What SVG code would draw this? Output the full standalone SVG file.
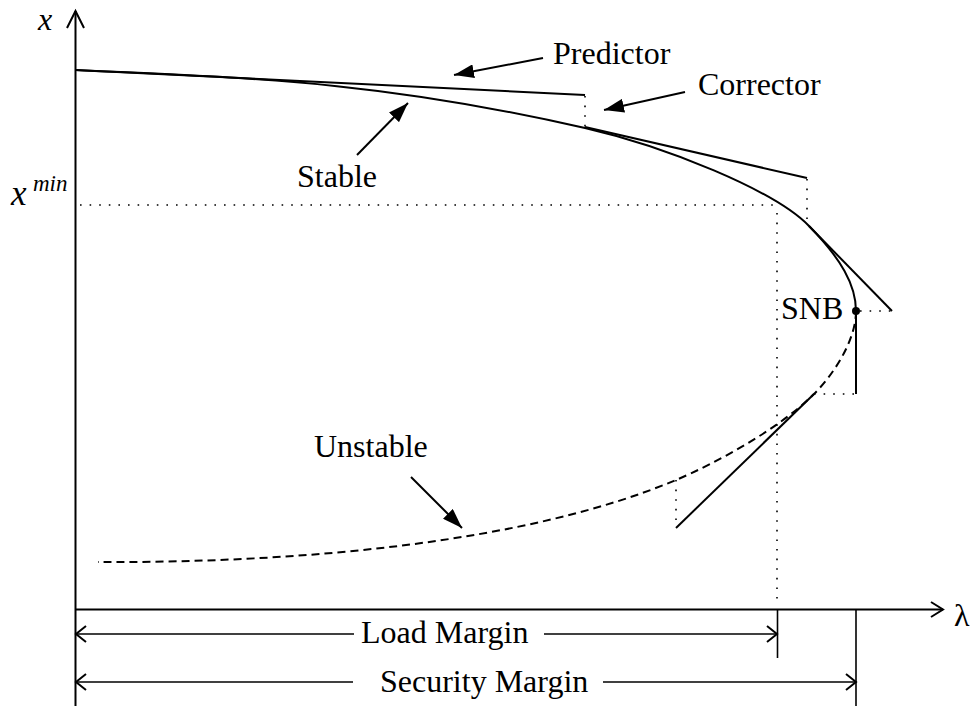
<svg xmlns="http://www.w3.org/2000/svg" width="977" height="706" viewBox="0 0 977 706">
  <style>
    .ln { fill: none; stroke: #000; stroke-width: 2; }
    .dot { fill: none; stroke: #000; stroke-width: 1.6; stroke-dasharray: 1.6 8; }
    .dash { fill: none; stroke: #000; stroke-width: 2; stroke-dasharray: 8 5; }
    .open { fill: none; stroke: #000; stroke-width: 2; stroke-linejoin: miter; }
    .thin { fill: none; stroke: #000; stroke-width: 1.6; }
    .lbl { font-family: "Liberation Serif", "Times New Roman", serif; font-size: 32px; fill: #000; }
    .it { font-style: italic; }
    .var { font-size: 35px; }
    .sup { font-size: 23px; }
  </style>
  <defs>
    <marker id="head" viewBox="0 0 20 14" refX="20" refY="7" markerWidth="20" markerHeight="14" markerUnits="userSpaceOnUse" orient="auto">
      <path d="M0,0 L20,7 L0,14 Z" fill="#000"/>
    </marker>
  </defs>
  <rect width="977" height="706" fill="#fff"/>

  <!-- axes -->
  <g id="axes">
    <line class="ln" x1="75.5" y1="706" x2="75.5" y2="11"/>
    <polyline class="open" points="67,28 75.5,11 84,28"/>
    <line class="ln" x1="75" y1="609.5" x2="943" y2="609.5"/>
    <polyline class="open" points="931,602 943,609.5 931,617"/>
    <text class="lbl it" x="38" y="30">x</text>
    <text class="lbl it var" x="11" y="205">x</text>
    <text class="lbl it sup" x="33" y="191">min</text>
    <text class="lbl" x="954" y="626">λ</text>
  </g>

  <!-- stable branch of the nose curve -->
  <g id="stable-curve">
    <path class="ln" d="M75.5,70 C245,78 375,80 585,128 C665,146.4 774,190 809,226 C841,258.6 856,285 856,311"/>
  </g>

  <!-- unstable branch -->
  <g id="unstable-curve">
    <path class="dash" d="M856,311 C856,340 834,374 814,394 C779,429 716,463 676,480 C526,543 300,563 98,562"/>
  </g>

  <g id="snb">
    <circle cx="856" cy="311" r="4" fill="#000"/>
    <text class="lbl" x="781" y="319">SNB</text>
  </g>

  <!-- predictor / corrector steps -->
  <g id="steps">
    <line class="ln" x1="75.5" y1="70" x2="585" y2="95"/>
    <line class="dot" x1="585" y1="96" x2="585" y2="127"/>
    <line class="ln" x1="585" y1="127" x2="807" y2="178"/>
    <line class="dot" x1="807" y1="179" x2="807" y2="225"/>
    <line class="ln" x1="809" y1="226" x2="892" y2="311"/>
    <line class="dot" x1="860" y1="311" x2="892" y2="311"/>
    <line class="ln" x1="856" y1="311" x2="856" y2="394"/>
    <line class="dot" x1="814" y1="394" x2="854" y2="394"/>
    <line class="ln" x1="814" y1="394" x2="676" y2="528"/>
    <line class="dot" x1="676" y1="480" x2="676" y2="527"/>
  </g>

  <!-- guide lines at x-min -->
  <g id="xmin-guides">
    <line class="dot" x1="80" y1="205" x2="777" y2="205"/>
    <line class="dot" x1="777" y1="213" x2="777" y2="605"/>
  </g>

  <!-- labels with pointers -->
  <g id="connectors">
    <line class="ln" x1="543" y1="58" x2="454" y2="75" marker-end="url(#head)"/>
    <line class="ln" x1="685" y1="92" x2="604" y2="110" marker-end="url(#head)"/>
    <line class="ln" x1="357" y1="155" x2="408" y2="103" marker-end="url(#head)"/>
    <line class="ln" x1="411" y1="477" x2="462" y2="528" marker-end="url(#head)"/>
  </g>
  <g id="label-predictor"><text class="lbl" x="553" y="64">Predictor</text></g>
  <g id="label-corrector"><text class="lbl" x="698" y="95">Corrector</text></g>
  <g id="label-stable"><text class="lbl" x="297" y="187">Stable</text></g>
  <g id="label-unstable"><text class="lbl" x="314" y="457">Unstable</text></g>

  <!-- margins -->
  <g id="load-margin">
    <line class="thin" x1="777.5" y1="609" x2="777.5" y2="658"/>
    <line class="thin" x1="76" y1="634" x2="354" y2="634"/>
    <line class="thin" x1="544" y1="634" x2="777" y2="634"/>
    <polyline class="open" points="86,626 76,634 86,642"/>
    <polyline class="open" points="767,626 777,634 767,642"/>
    <text class="lbl" x="361" y="643">Load Margin</text>
  </g>
  <g id="security-margin">
    <line class="thin" x1="856" y1="609" x2="856" y2="706"/>
    <line class="thin" x1="76" y1="682" x2="353" y2="682"/>
    <line class="thin" x1="603" y1="682" x2="855" y2="682"/>
    <polyline class="open" points="86,674 76,682 86,690"/>
    <polyline class="open" points="846,674 856,682 846,690"/>
    <text class="lbl" x="380" y="692">Security Margin</text>
  </g>
</svg>
